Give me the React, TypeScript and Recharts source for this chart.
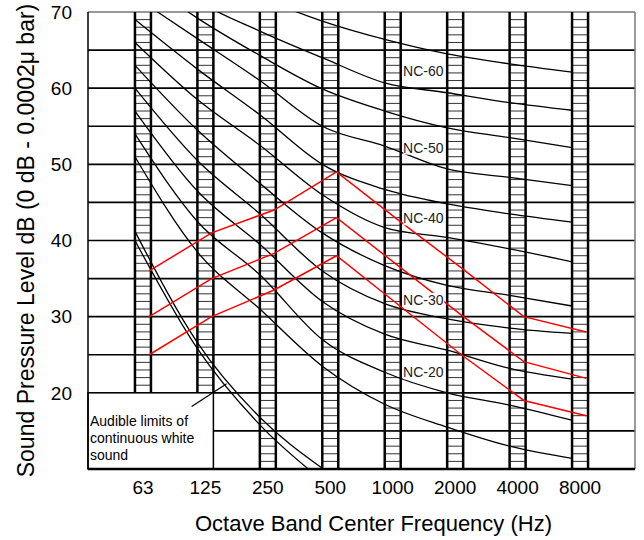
import React from 'react';
import {
  LineChart, Line, XAxis, YAxis, ReferenceLine, ReferenceArea, ReferenceDot, Label,
} from 'recharts';

const bands = ['63', '125', '250', '500', '1000', '2000', '4000', '8000'];
const bandTicks = [0, 1, 2, 3, 4, 5, 6, 7];

// NC curves, dB per octave band
const nc15 = [51, 38.5, 31, 23.5, 18.5, 15.5, 13, 11.4];
const nc20 = [54, 42.5, 35.5, 27, 22.7, 20, 18.4, 16.4];
const nc25 = [57, 46.5, 39.5, 32, 27.7, 25.6, 23.2, 21.8];
const nc30 = [60, 50.5, 43.5, 36, 31.7, 29.7, 28.5, 27.8];
const nc35 = [63, 54.5, 47.5, 41, 36.7, 34.1, 32.8, 31.4];
const nc40 = [66, 58.5, 52.5, 46, 41.7, 40.4, 38.9, 37.2];
const nc45 = [69, 62.5, 56.5, 50, 46.7, 44.8, 43.5, 42.4];
const nc50 = [72, 66.5, 61, 55, 52.4, 49.4, 48.3, 47.2];
const nc55 = [75, 69.2, 64.3, 59.9, 57, 54.8, 53.5, 52.2];
const nc60 = [78, 71.5, 67.5, 64, 60.7, 59.4, 58.1, 57.1];
const nc65 = [81, 76, 72, 68.8, 66.4, 64.5, 63.2, 62.1];
const ncCurves = [nc15, nc20, nc25, nc30, nc35, nc40, nc45, nc50, nc55, nc60, nc65];

// audible limits of continuous white sound (63..500 Hz)
const audibleUpper = [41.2, 26.6, 16.8, 10.1];
const audibleLower = [40.0, 25.8, 15.8, 8.5];

// measured spectra (red)
const redHigh = [36, 41, 44, 49, 42.6, 36.4, 30, 28];
const redMid = [30, 35, 38.3, 43, 36.6, 30.2, 24.1, 21.9];
const redLow = [25, 30, 33.5, 38, 31.5, 25, 19, 17];

const barBottoms = [20, 20, 10, 10, 10, 10, 10, 10];
const gridLevels = [15, 20, 25, 30, 35, 40, 45, 50, 55, 60, 65];
const yTicks = [20, 30, 40, 50, 60, 70];

const ncLabels = ['NC-60', 'NC-50', 'NC-40', 'NC-30', 'NC-20'];
const ncLabelLevels = [62.3, 52.2, 42.9, 32.2, 22.7];
const boxLines = ['Audible limits of', 'continuous white', 'sound'];

const X_MIN = -0.88;
const X_MAX = 7.88;
const Y_MIN = 10;
const Y_MAX = 70;
const BAR_HALF = 0.128;
const NC_SHIFT = -0.128;
const RED_SHIFT = 0.1;
const LABEL_X = 4.49;
const FONT = '"Liberation Sans", Arial, Helvetica, sans-serif';

const toPoints = (vals: number[], shift: number) =>
  vals.map((v, i) => ({ x: i + shift, y: v }));

function HatchBar({ x, y, width, height, steps }: any) {
  const rungs = [];
  for (let k = 1; k < steps; k++) {
    const yy = y + (height * k) / steps;
    rungs.push(<line key={k} x1={x} x2={x + width} y1={yy} y2={yy} stroke="#333" strokeWidth={1} />);
  }
  return (
    <g>
      {rungs}
      <line x1={x} x2={x} y1={y} y2={y + height} stroke="#000" strokeWidth={2.5} />
      <line x1={x + width} x2={x + width} y1={y} y2={y + height} stroke="#000" strokeWidth={2.5} />
    </g>
  );
}

function NoteBox({ x, y, width, height }: any) {
  return (
    <g>
      <rect x={x} y={y} width={width} height={height} fill="#fff" stroke="#000" strokeWidth={1.5} />
      {boxLines.map((t, i) => (
        <text key={t} x={x + 2} y={y + 33 + i * 17} fontSize={14} fill="#000">{t}</text>
      ))}
    </g>
  );
}

function NcTag({ cx, cy, text }: any) {
  return (
    <g>
      <rect x={cx - 20} y={cy - 7} width={41} height={14} fill="#fff" />
      <text x={cx} y={cy} dy="0.36em" textAnchor="middle" fontSize={14} fill="#222">{text}</text>
    </g>
  );
}

export default function App() {
  return (
    <div style={{ position: 'absolute', left: 0, top: 0, fontFamily: FONT, background: '#fff' }}>
      <LineChart width={644} height={540} margin={{ top: 12, right: 9, bottom: 0, left: 0 }}>
        <XAxis
          dataKey="x"
          type="number"
          domain={[X_MIN, X_MAX]}
          ticks={bandTicks}
          tickFormatter={(i: number) => bands[i]}
          allowDataOverflow
          tickLine={false}
          tickMargin={6}
          height={71}
          axisLine={{ stroke: '#000', strokeWidth: 2.5 }}
          tick={{ fontSize: 19, fill: '#000' }}
        >
          <Label value="Octave Band Center Frequency (Hz)" position="insideBottom" offset={9} dx={12} fontSize={22} fill="#000" />
        </XAxis>
        <YAxis
          type="number"
          domain={[Y_MIN, Y_MAX]}
          ticks={yTicks}
          allowDataOverflow
          width={88}
          tickLine={false}
          tickMargin={10}
          axisLine={{ stroke: '#000', strokeWidth: 1.5 }}
          tick={{ fontSize: 19, fill: '#000' }}
        >
          <Label
            value="Sound Pressure Level dB (0 dB - 0.0002μ bar)"
            angle={-90}
            position="insideLeft"
            offset={26}
            fontSize={23}
            fill="#000"
            style={{ textAnchor: 'middle' }}
          />
        </YAxis>

        {gridLevels.map((g) => (
          <ReferenceLine key={'g' + g} y={g} stroke="#000" strokeWidth={1.6} zIndex={10} />
        ))}
        <ReferenceLine y={Y_MAX} stroke="#777" strokeWidth={1.5} zIndex={10} />
        <ReferenceLine x={X_MAX} stroke="#777" strokeWidth={1.5} zIndex={10} />

        {barBottoms.map((b, i) => (
          <ReferenceArea
            key={'b' + i}
            x1={i - BAR_HALF}
            x2={i + BAR_HALF}
            y1={b}
            y2={Y_MAX}
            zIndex={20}
            shape={(p: any) => <HatchBar {...p} steps={Y_MAX - b} />}
          />
        ))}

        <ReferenceArea
          x1={X_MIN}
          x2={1 + BAR_HALF}
          y1={Y_MIN}
          y2={20}
          zIndex={30}
          shape={(p: any) => <NoteBox {...p} />}
        />

        {ncCurves.map((c, k) => (
          <Line
            key={'nc' + k}
            data={toPoints(c, NC_SHIFT)}
            dataKey="y"
            type="monotone"
            stroke="#000"
            strokeWidth={1.3}
            dot={false}
            isAnimationActive={false}
            zIndex={40}
          />
        ))}
        <Line data={toPoints(audibleUpper, NC_SHIFT)} dataKey="y" type="monotone" stroke="#000" strokeWidth={1.3} dot={false} isAnimationActive={false} zIndex={40} />
        <Line data={toPoints(audibleLower, NC_SHIFT)} dataKey="y" type="monotone" stroke="#000" strokeWidth={1.3} dot={false} isAnimationActive={false} zIndex={40} />

        {[redHigh, redMid, redLow].map((r, k) => (
          <Line
            key={'r' + k}
            data={toPoints(r, RED_SHIFT)}
            dataKey="y"
            type="linear"
            stroke="#ff0000"
            strokeWidth={1.5}
            dot={false}
            isAnimationActive={false}
            zIndex={45}
          />
        ))}

        <ReferenceLine
          segment={[{ x: 0.78, y: 18.2 }, { x: 1.34, y: 21.2 }]}
          stroke="#000"
          strokeWidth={1.2}
          zIndex={50}
        />

        {ncLabels.map((t, i) => (
          <ReferenceDot
            key={t}
            x={LABEL_X}
            y={ncLabelLevels[i]}
            zIndex={60}
            shape={(p: any) => <NcTag cx={p.cx} cy={p.cy} text={t} />}
          />
        ))}
      </LineChart>
    </div>
  );
}
